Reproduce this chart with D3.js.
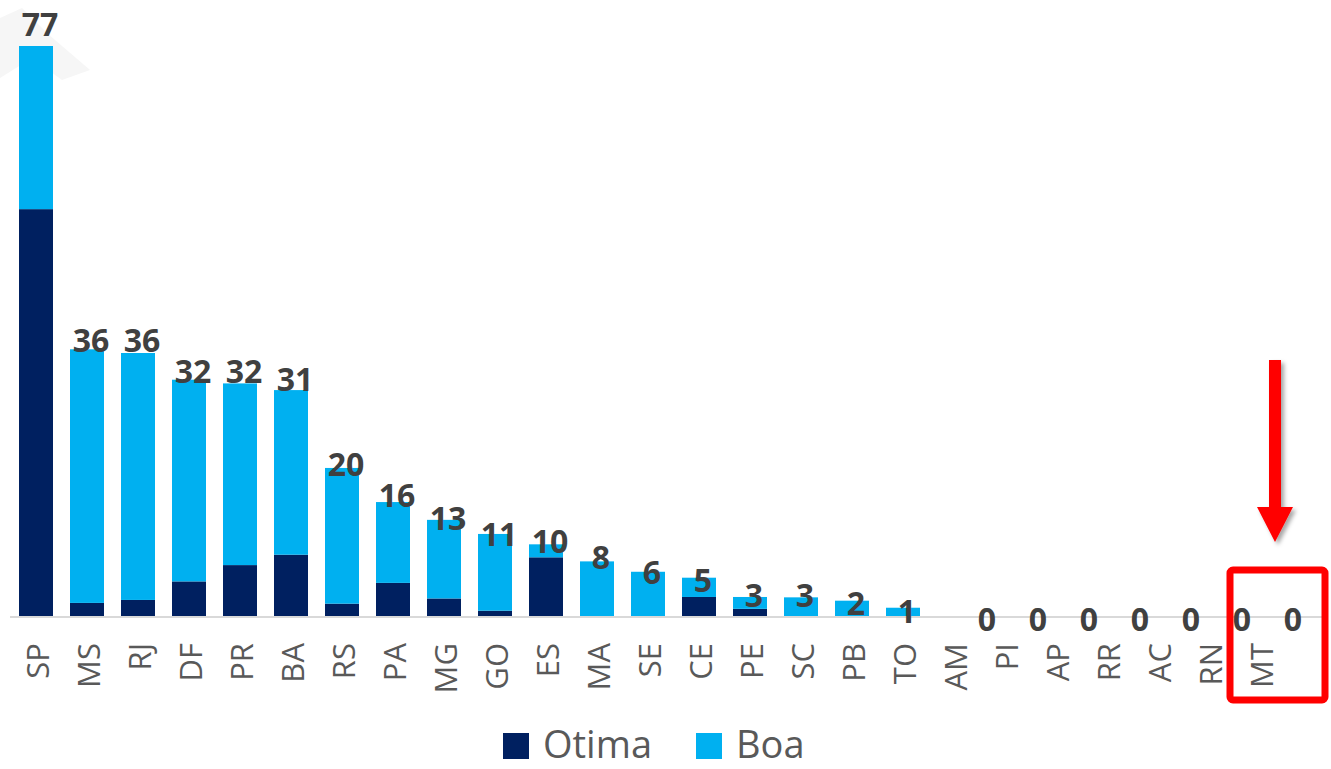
<!DOCTYPE html>
<html>
<head>
<meta charset="utf-8">
<script src="https://cdn.jsdelivr.net/npm/d3@7"></script>
<style>
  html, body { margin: 0; padding: 0; background: #ffffff; }
  svg { display: block; }
  text { font-family: "Open Sans", "Noto Sans", sans-serif; }
</style>
</head>
<body>
<svg id="chart" width="1331" height="769"></svg>
<script>
// ---- Data ----
const categories = ["SP","MS","RJ","DF","PR","BA","RS","PA","MG","GO","ES","MA","SE","CE","PE","SC","PB","TO","AM","PI","AP","RR","AC","RN","MT"];
const otima = [55, 1.9, 2.3, 4.8, 7, 8.4, 1.8, 4.6, 2.5, 0.85, 8.05, 0, 0, 2.7, 1.1, 0, 0, 0, 0, 0, 0, 0, 0, 0, 0];
const boa   = [22, 34.2, 33.3, 27.2, 24.5, 22.2, 18.3, 10.9, 10.6, 10.35, 1.75, 7.5, 6.1, 2.6, 1.6, 2.65, 2.2, 1.25, 0, 0, 0, 0, 0, 0, 0];
const totals = [77, 36, 36, 32, 32, 31, 20, 16, 13, 11, 10, 8, 6, 5, 3, 3, 2, 1, 0, 0, 0, 0, 0, 0, 0];
const seriesNames = ["Otima", "Boa"];
const highlighted = "MT";

const colors = { Otima: "#002060", Boa: "#00B0F0" };

const svg = d3.select("#chart");

// faint watermark top-left
svg.append("path")
  .attr("d", "M0,18 L22,8 L48,34 L90,70 L62,80 L32,58 L0,78 Z")
  .attr("fill", "#f6f6f6");

const x = d3.scaleBand().domain(categories).range([10.5, 1285.5]).paddingInner(1/3).paddingOuter(1/6);
const y = d3.scaleLinear().domain([0, 77]).range([617, 46]);
// label positions follow a slightly different (secondary) scale
const yLab = d3.scaleLinear().domain([0, 77]).range([619, 24]);

const rows = categories.map((c, i) => ({ cat: c, Otima: otima[i], Boa: boa[i] }));
const stacked = d3.stack().keys(seriesNames)(rows);

// bars
svg.append("g").selectAll("g")
  .data(stacked).join("g")
  .attr("fill", d => colors[d.key])
  .selectAll("rect")
  .data(d => d.filter(p => p[1] - p[0] > 0))
  .join("rect")
  .attr("x", d => x(d.data.cat))
  .attr("y", d => y(d[1]))
  .attr("width", x.bandwidth())
  .attr("height", d => y(d[0]) - y(d[1]));

// axis line
svg.append("line")
  .attr("x1", 10).attr("x2", 1326)
  .attr("y1", y(0)).attr("y2", y(0))
  .attr("stroke", "#d9d9d9").attr("stroke-width", 2);

// category labels
svg.append("g").selectAll("text")
  .data(categories).join("text")
  .attr("transform", d => `translate(${x(d) + x.bandwidth() / 2 + 2},643) rotate(-90)`)
  .attr("text-anchor", "end")
  .attr("dy", "0.36em")
  .attr("font-size", 31)
  .attr("fill", "#595959")
  .text(d => d);

// total labels
svg.append("g").selectAll("text")
  .data(categories.map((c, i) => ({ cat: c, v: totals[i] }))).join("text")
  .attr("x", d => x(d.cat) + x.bandwidth() / 2 + (d.v === 0 ? 33 : 4))
  .attr("y", d => yLab(d.v))
  .attr("dy", "0.36em")
  .attr("text-anchor", "middle")
  .attr("font-size", 32)
  .attr("font-weight", "bold")
  .attr("fill", "#404040")
  .text(d => d.v);

// legend
const legend = svg.append("g");
const legItems = [{ name: "Otima", x: 503 }, { name: "Boa", x: 696 }];
legItems.forEach(it => {
  legend.append("rect").attr("x", it.x).attr("y", 733).attr("width", 26).attr("height", 26).attr("fill", colors[it.name]);
  legend.append("text").attr("x", it.x + 40).attr("y", 758)
    .attr("font-size", 38).attr("fill", "#595959").text(it.name);
});

// annotation: red box and arrow around highlighted category
const defs = svg.append("defs");
const f = defs.append("filter").attr("id", "shadow").attr("x", "-50%").attr("y", "-50%").attr("width", "200%").attr("height", "200%");
f.append("feDropShadow").attr("dx", 3).attr("dy", 3).attr("stdDeviation", 2).attr("flood-color", "#000").attr("flood-opacity", 0.35);

const hx = x(highlighted) + x.bandwidth() / 2;
svg.append("rect")
  .attr("x", hx - 30).attr("y", 570)
  .attr("width", 95).attr("height", 130)
  .attr("rx", 3)
  .attr("fill", "none").attr("stroke", "#ff0000").attr("stroke-width", 7);

const ax = hx + 15;
svg.append("path")
  .attr("d", `M${ax - 6},360 L${ax + 6},360 L${ax + 6},507 L${ax + 18},507 L${ax},542 L${ax - 18},507 L${ax - 6},507 Z`)
  .attr("fill", "#ff0000")
  .attr("filter", "url(#shadow)");
</script>
</body>
</html>
